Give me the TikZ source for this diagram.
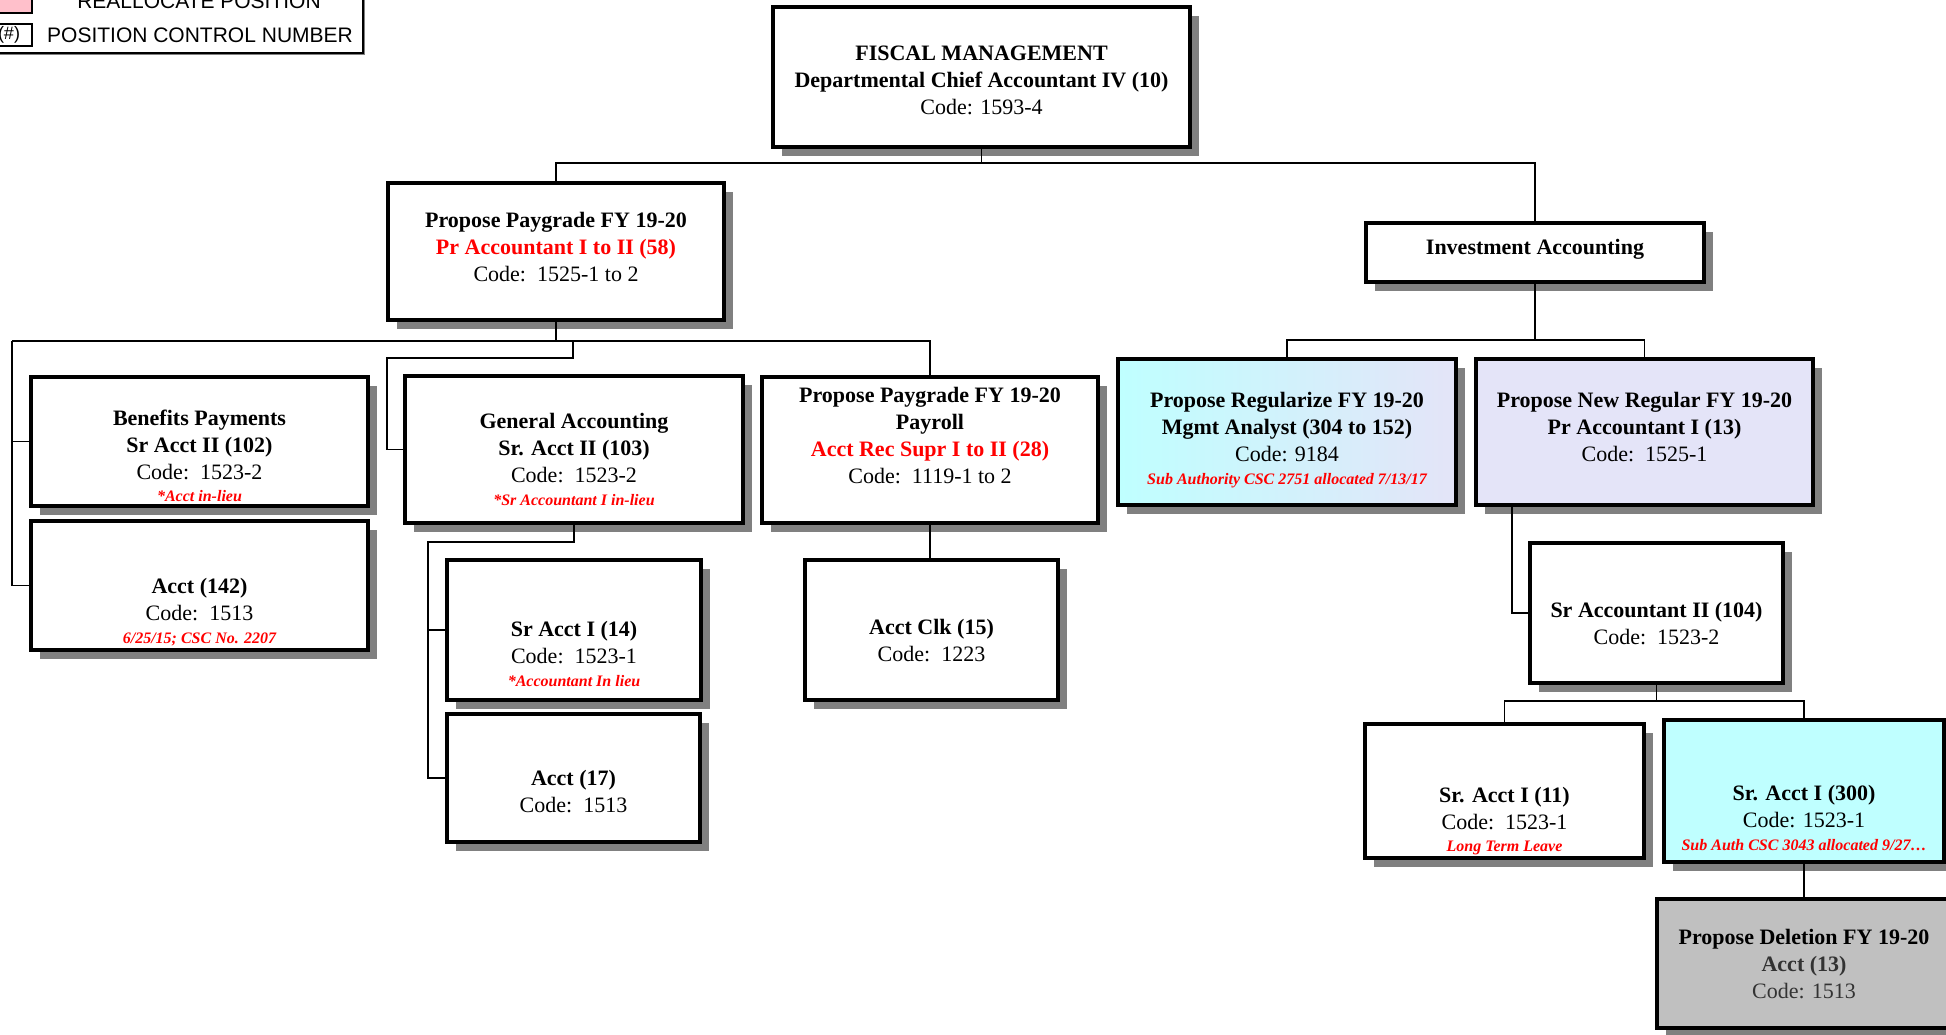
\documentclass[tikz,border=0pt]{standalone}
\usepackage{fontspec}
\setmainfont{Liberation Serif}
\newfontfamily\legendfont{Liberation Sans}
\usetikzlibrary{shadows}
\definecolor{shadowgray}{HTML}{808080}
\definecolor{lcyan}{HTML}{BFFFFF}
\definecolor{lav}{HTML}{E4E4F8}
\definecolor{delgray}{HTML}{C0C0C0}
\definecolor{pinkfill}{HTML}{FFC0CB}
\definecolor{darktext}{HTML}{333333}
\newcommand{\rednote}[1]{{\fontsize{8}{13.5}\selectfont\bfseries\itshape\color{red}#1}}
\newcommand{\redtitle}[1]{{\bfseries\color{red}#1}}
\tikzset{
  orgbox/.style={rectangle, draw=black, line width=2pt, fill=white, inner sep=0pt,
    drop shadow={shadow xshift=4.5pt, shadow yshift=-4.5pt, fill=shadowgray, opacity=1}},
  legbox/.style={rectangle, draw=black, line width=1pt, fill=white, inner sep=0pt},
  boxtext/.style={align=center, font=\fontsize{11}{13.5}\selectfont, inner sep=0pt},
  legtext/.style={font=\legendfont\fontsize{10.5}{12}\selectfont, inner sep=0pt},
  conn/.style={draw=black, line width=0.8pt},
}
\newcommand{\obox}[6][]{\node[orgbox,#1, minimum width={(#5-#3)*0.5pt}, minimum height={(#6-#4)*0.5pt}] (#2) at ({(#3+#5)/2},{(#4+#6)/2}) {};}
\newcommand{\lbox}[6][]{\node[legbox,#1, minimum width={(#5-#3)*0.5pt}, minimum height={(#6-#4)*0.5pt}] (#2) at ({(#3+#5)/2},{(#4+#6)/2}) {};}
\begin{document}
\begin{tikzpicture}[x=0.5pt,y=-0.5pt]
\useasboundingbox (0,0) rectangle (1946,1034);
\fill[white] (0,0) rectangle (1946,1034);
\clip (0,0) rectangle (1946,1034);

% legend
\fill[shadowgray] (-8,-8) rectangle (365,55);
\lbox{legend}{-10}{-10}{363}{53}
\lbox[fill=pinkfill]{legpink}{-10}{-10}{32}{13}
\lbox{legnum}{-10}{24}{32}{46}
\node[legtext] (legt1) at (199,1) {REALLOCATE POSITION};
\node[legtext] (legt2) at (200,35) {POSITION CONTROL NUMBER};
\node[legtext, font=\legendfont\fontsize{9}{10}\selectfont] (legt3) at (9,35) {(\#)};

% boxes
\obox{fm}{773}{7}{1190}{147}
\obox{pp}{388}{183}{724}{320}
\obox{inv}{1366}{223}{1704}{282}
\obox{ben}{31}{377}{368}{506}
\obox{acct142}{31}{521}{368}{650}
\obox{ga}{405}{376}{743}{523}
\obox{pay}{762}{377}{1098}{523}
\obox{sa14}{447}{560}{701}{700}
\obox{acct17}{447}{714}{700}{842}
\obox{clk}{805}{560}{1058}{700}
\obox[left color=lcyan,right color=lav]{mgmt}{1118}{359}{1456}{505}
\obox[fill=lav]{pr13}{1476}{359}{1813}{505}
\obox{sa104}{1530}{543}{1783}{683}
\obox{sa11}{1365}{724}{1644}{858}
\obox[fill=lcyan]{sa300}{1664}{720}{1944}{862}
\obox[fill=delgray]{del}{1657}{899}{1951}{1028}

% texts
\node[boxtext] (tfm) at (981.5,80) {\textbf{FISCAL MANAGEMENT}\\\textbf{Departmental Chief Accountant IV (10)}\\Code: 1593-4};
\node[boxtext] (tpp) at (556,247.5) {\textbf{Propose Paygrade FY 19-20}\\\redtitle{Pr Accountant I to II (58)}\\Code:\ \ 1525-1 to 2};
\node[boxtext] (tinv) at (1535,249) {\textbf{Investment Accounting}};
\node[boxtext] (tben) at (199.5,456) {\textbf{Benefits Payments}\\\textbf{Sr Acct II (102)}\\Code:\ \ 1523-2\\[-2.2pt]\rednote{*Acct in-lieu}};
\node[boxtext] (t142) at (199.5,612) {\textbf{Acct (142)}\\Code:\ \ 1513\\[-2.2pt]\rednote{6/25/15; CSC No. 2207}};
\node[boxtext] (tga) at (574,459.5) {\textbf{General Accounting}\\\textbf{Sr. Acct II (103)}\\Code:\ \ 1523-2\\[-2.2pt]\rednote{*Sr Accountant I in-lieu}};
\node[boxtext] (tpay) at (930,435.5) {\textbf{Propose Paygrade FY 19-20}\\\textbf{Payroll}\\\redtitle{Acct Rec Supr I to II (28)}\\Code:\ \ 1119-1 to 2};
\node[boxtext] (tsa14) at (574,654) {\textbf{Sr Acct I (14)}\\Code:\ \ 1523-1\\[-2.2pt]\rednote{*Accountant In lieu}};
\node[boxtext] (t17) at (573.5,792) {\textbf{Acct (17)}\\Code:\ \ 1513};
\node[boxtext] (tclk) at (931.5,640.5) {\textbf{Acct Clk (15)}\\Code:\ \ 1223};
\node[boxtext] (tmgmt) at (1287,440) {\textbf{Propose Regularize FY 19-20}\\\textbf{Mgmt Analyst (304 to 152)}\\Code: 9184\\[-2.2pt]\rednote{Sub Authority CSC 2751 allocated 7/13/17}};
\node[boxtext] (tpr13) at (1644.5,427.5) {\textbf{Propose New Regular FY 19-20}\\\textbf{Pr Accountant I (13)}\\Code:\ \ 1525-1};
\node[boxtext] (tsa104) at (1656.5,623.5) {\textbf{Sr Accountant II (104)}\\Code:\ \ 1523-2};
\node[boxtext] (tsa11) at (1504.5,821) {\textbf{Sr. Acct I (11)}\\Code:\ \ 1523-1\\[-2.2pt]\rednote{Long Term Leave}};
\node[boxtext] (tsa300) at (1804,818) {\textbf{Sr. Acct I (300)}\\Code: 1523-1\\[-2.2pt]\rednote{Sub Auth CSC 3043 allocated 9/27\ldots}};
\node[boxtext] (tdel) at (1804,964) {\textbf{Propose Deletion FY 19-20}\\{\bfseries\color{darktext}Acct (13)}\\{\color{darktext}Code: 1513}};

% connectors
\coordinate (fmbus) at (981.5,163);
\draw[conn] (fm.south) -- (fmbus);
\draw[conn] (fmbus) -| (pp.north);
\draw[conn] (fmbus) -| (inv.north);

\coordinate (ppbus) at (556,341);
\coordinate (bl) at (12,341);
\coordinate (gbus1) at (573,341);
\coordinate (gbus2) at (387,358);
\draw[conn] (pp.south) -- (ppbus);
\draw[conn] (bl) -| (pay.north);
\draw[conn] (bl) |- (ben.west);
\draw[conn] (bl) |- (acct142.west);
\draw[conn] (gbus1) |- (gbus2) |- (ga.west);

\coordinate (gabus) at (428,542);
\draw[conn] (ga.south) |- (gabus) |- (sa14.west);
\draw[conn] (gabus) |- (acct17.west);
\draw[conn] (pay.south) -- (pay.south |- clk.north);

\coordinate (invbus) at (1535,340);
\draw[conn] (inv.south) -- (invbus);
\draw[conn] (invbus) -| (mgmt.north);
\draw[conn] (invbus) -| (pr13.north);
\coordinate (prdrop) at (1512,505);
\draw[conn] (prdrop) |- (sa104.west);
\coordinate (sabus) at (1656.5,701);
\draw[conn] (sa104.south) -- (sabus);
\draw[conn] (sabus) -| (sa11.north);
\draw[conn] (sabus) -| (sa300.north);
\draw[conn] (sa300.south) -- (del.north);
\end{tikzpicture}
\end{document}
